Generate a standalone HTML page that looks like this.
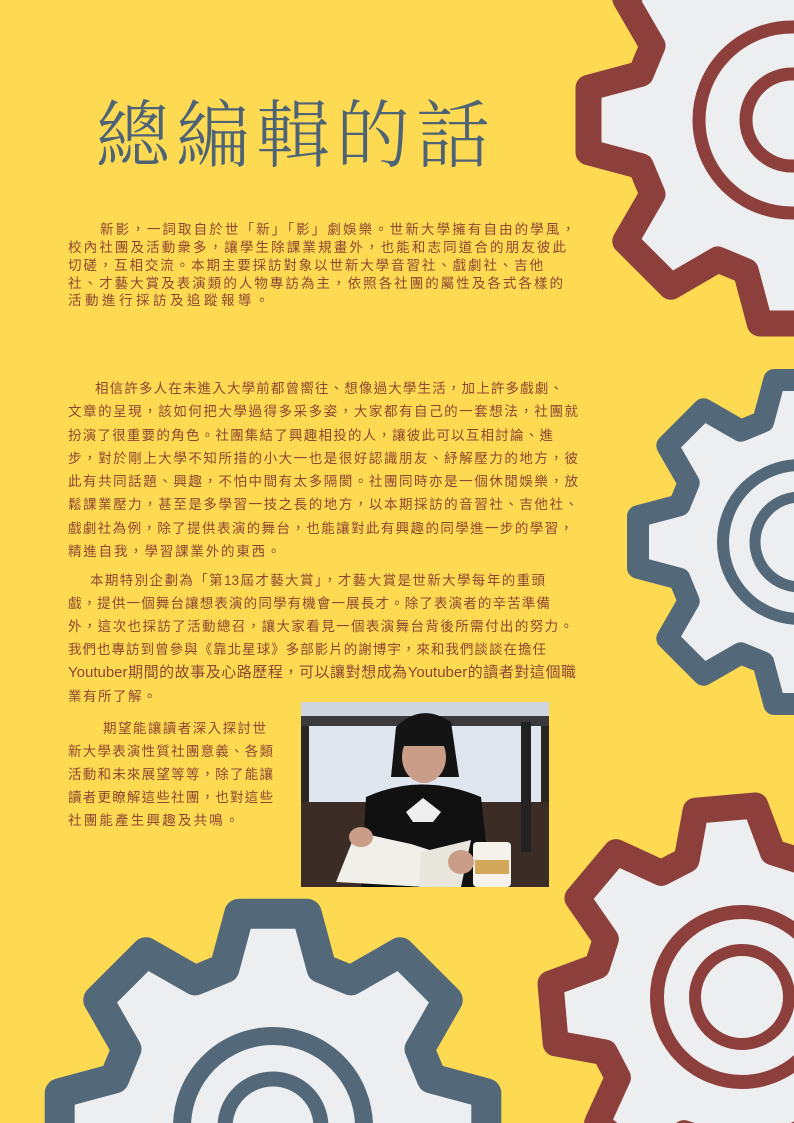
<!DOCTYPE html>
<html><head><meta charset="utf-8">
<style>
html,body{margin:0;padding:0;width:794px;height:1123px;overflow:hidden}
body{position:relative;background:#FDDA52;font-family:"Liberation Sans","Noto Sans CJK TC",sans-serif}
#gears{position:absolute;left:0;top:0;display:block}
.t{position:absolute;white-space:nowrap;color:#8E4632;font-size:13.5px;line-height:18px;text-align:justify;text-align-last:justify}
.t.l{text-align-last:left}
h1{position:absolute;left:96px;top:80px;margin:0;font-family:"Noto Serif CJK SC","Noto Sans CJK TC",serif;font-weight:300;font-size:74px;letter-spacing:6px;color:#4E6376;line-height:100px}
#photo{position:absolute;left:301px;top:702px;width:248px;height:185px;display:block}
</style></head>
<body>
<svg id="gears" width="794" height="1123" xmlns="http://www.w3.org/2000/svg"></svg>

<h1>總編輯的話</h1>

<div>
<div class="t" style="left:100px;top:221px;width:475px">新影，一詞取自於世「新」「影」劇娛樂。世新大學擁有自由的學風，</div>
<div class="t" style="left:68px;top:239px;width:498px">校內社團及活動衆多，讓學生除課業規畫外，也能和志同道合的朋友彼此</div>
<div class="t" style="left:68px;top:257px;width:475px">切磋，互相交流。本期主要採訪對象以世新大學音習社、戲劇社、吉他</div>
<div class="t" style="left:68px;top:275px;width:495px">社、才藝大賞及表演類的人物專訪為主，依照各社團的屬性及各式各樣的</div>
<div class="t l" style="left:68px;top:292px;letter-spacing:3.5px">活動進行採訪及追蹤報導。</div>
</div>

<div>
<div class="t" style="left:95px;top:380px;width:468px">相信許多人在未進入大學前都曾嚮往、想像過大學生活，加上許多戲劇、</div>
<div class="t" style="left:68px;top:403px;width:510px">文章的呈現，該如何把大學過得多采多姿，大家都有自己的一套想法，社團就</div>
<div class="t" style="left:68px;top:427px;width:485px">扮演了很重要的角色。社團集結了興趣相投的人，讓彼此可以互相討論、進</div>
<div class="t" style="left:68px;top:450px;width:510px">步，對於剛上大學不知所措的小大一也是很好認識朋友、紓解壓力的地方，彼</div>
<div class="t" style="left:68px;top:473px;width:510px">此有共同話題、興趣，不怕中間有太多隔閡。社團同時亦是一個休閒娛樂，放</div>
<div class="t" style="left:68px;top:496px;width:510px">鬆課業壓力，甚至是多學習一技之長的地方，以本期採訪的音習社、吉他社、</div>
<div class="t" style="left:68px;top:520px;width:505px">戲劇社為例，除了提供表演的舞台，也能讓對此有興趣的同學進一步的學習，</div>
<div class="t l" style="left:68px;top:543px;letter-spacing:1.8px">精進自我，學習課業外的東西。</div>
</div>

<div>
<div class="t" style="left:90px;top:572px;width:455px">本期特別企劃為「第13屆才藝大賞」，才藝大賞是世新大學每年的重頭</div>
<div class="t" style="left:68px;top:595px;width:482px">戲，提供一個舞台讓想表演的同學有機會一展長才。除了表演者的辛苦準備</div>
<div class="t" style="left:68px;top:618px;width:505px">外，這次也採訪了活動總召，讓大家看見一個表演舞台背後所需付出的努力。</div>
<div class="t" style="left:68px;top:641px;width:478px">我們也專訪到曾參與《靠北星球》多部影片的謝博宇，來和我們談談在擔任</div>
<div class="t" style="left:68px;top:664px;width:508px;font-size:15px">Youtuber期間的故事及心路歷程，可以讓對想成為Youtuber的讀者對這個職</div>
<div class="t l" style="left:68px;top:688px;letter-spacing:1.5px">業有所了解。</div>
</div>

<div>
<div class="t" style="left:103px;top:720px;width:163px">期望能讓讀者深入探討世</div>
<div class="t" style="left:68px;top:743px;width:205px">新大學表演性質社團意義、各類</div>
<div class="t" style="left:68px;top:766px;width:205px">活動和未來展望等等，除了能讓</div>
<div class="t" style="left:68px;top:789px;width:205px">讀者更瞭解這些社團，也對這些</div>
<div class="t l" style="left:68px;top:812px;letter-spacing:2.2px">社團能產生興趣及共鳴。</div>
</div>

<svg id="photo" viewBox="0 0 248 185" xmlns="http://www.w3.org/2000/svg">
<rect width="248" height="185" fill="#2a2622"/>
<rect x="0" y="0" width="248" height="14" fill="#cfd6e0"/>
<rect x="0" y="14" width="248" height="10" fill="#3a3a3c"/>
<rect x="8" y="24" width="232" height="78" fill="#dfe6ee"/>
<rect x="0" y="100" width="248" height="85" fill="#3b2d26"/>
<rect x="220" y="20" width="10" height="130" fill="#222"/>
<path d="M 95 25 Q 120 0 150 20 L 158 75 L 90 75 Z" fill="#141414"/>
<ellipse cx="123" cy="55" rx="22" ry="26" fill="#c99d88"/>
<path d="M 98 30 Q 122 8 150 30 L 150 44 L 98 44 Z" fill="#141414"/>
<path d="M 60 185 L 65 95 Q 120 70 180 95 L 190 185 Z" fill="#111"/>
<path d="M 105 110 L 122 96 L 140 110 L 132 120 L 112 120 Z" fill="#eee"/>
<path d="M 35 180 L 55 130 L 110 142 L 135 150 L 125 185 Z" fill="#f1efe9"/>
<path d="M 120 150 L 170 138 L 160 185 L 118 185 Z" fill="#e9e6de"/>
<rect x="172" y="140" width="38" height="45" rx="4" fill="#f5f2ec"/>
<rect x="174" y="158" width="34" height="14" fill="#d4a85a"/>
<ellipse cx="60" cy="135" rx="12" ry="10" fill="#c99d88"/>
<ellipse cx="160" cy="160" rx="13" ry="12" fill="#c99d88"/>
</svg>

<script>
const gearCenters=[[792,120],[800,542],[742,997],[273,1127]];
const gearTipRadii=[206,164,192,216];
const gearRootRadii=[158,126,148,166];
const gearStrokes=[26,22,26,30];
const gearColors=['#8D403B','#536878','#8D403B','#536878'];
const ringRadii=[[93,46],[77,45],[85,47],[91,48]];
const ringStrokes=[[13,13],[12,11],[14,12],[18,15]];
const gearRot=[0,0,-5,0];
const NS='http://www.w3.org/2000/svg';
const svg=document.getElementById('gears');
function gearPath(cx,cy,rt,rr,rot){
  let d='';
  for(let i=0;i<8;i++){
    const th=i*45+rot;
    const pts=[[rr,th-17],[rt,th-9],[rt,th+9],[rr,th+17]];
    pts.forEach((p,j)=>{
      const a=p[1]*Math.PI/180;
      const x=cx+p[0]*Math.cos(a), y=cy+p[0]*Math.sin(a);
      d+=(i===0&&j===0?'M':'L')+x.toFixed(1)+' '+y.toFixed(1)+' ';
    });
  }
  return d+'Z';
}
gearCenters.forEach((c,i)=>{
  const d=gearPath(c[0],c[1],gearTipRadii[i],gearRootRadii[i],gearRot[i]);
  const g=document.createElementNS(NS,'g');
  
  
  const sh=document.createElementNS(NS,'path');
  sh.setAttribute('d',d);sh.setAttribute('fill','#FFDF5C');
  g.appendChild(sh);
  const body=document.createElementNS(NS,'path');
  body.setAttribute('d',d);body.setAttribute('fill','#ECEEEF');
  body.setAttribute('transform','translate(8,5)');
  g.appendChild(body);
  const st=document.createElementNS(NS,'path');
  st.setAttribute('d',d);st.setAttribute('fill','none');
  st.setAttribute('stroke',gearColors[i]);st.setAttribute('stroke-width',gearStrokes[i]);
  st.setAttribute('stroke-linejoin','round');
  g.appendChild(st);
  ringRadii[i].forEach((r,k)=>{
    const ci=document.createElementNS(NS,'circle');
    ci.setAttribute('cx',c[0]);ci.setAttribute('cy',c[1]);ci.setAttribute('r',r);
    ci.setAttribute('fill','none');ci.setAttribute('stroke',gearColors[i]);
    ci.setAttribute('stroke-width',ringStrokes[i][k]);
    g.appendChild(ci);
  });
  svg.appendChild(g);
});
</script>
</body></html>
